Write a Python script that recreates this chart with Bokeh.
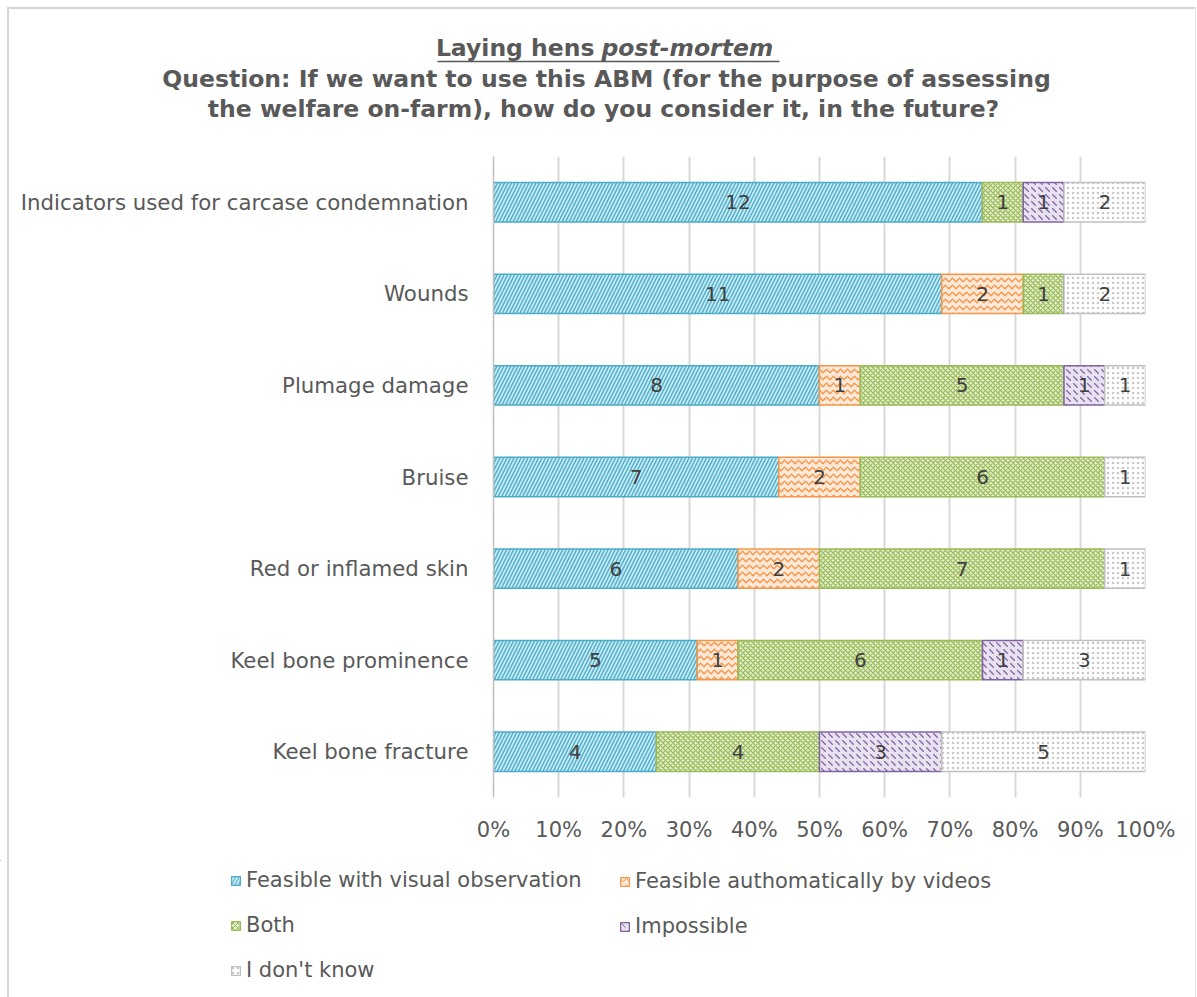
from bokeh.plotting import figure
from bokeh.layouts import column
from bokeh.models import (ColumnDataSource, Label, Legend, LegendItem, FactorRange,
                          Range1d, NumeralTickFormatter, FixedTicker, Arrow)
from bokeh.core.properties import value
from bokeh.embed import file_html
from bokeh.resources import INLINE

categories = ["Indicators used for carcase condemnation", "Wounds", "Plumage damage",
              "Bruise", "Red or inflamed skin", "Keel bone prominence", "Keel bone fracture"]
series_names = ["Feasible with visual observation", "Feasible authomatically by videos",
                "Both", "Impossible", "I don't know"]
visual = [12, 11, 8, 7, 6, 5, 4]
videos = [0, 2, 1, 2, 2, 1, 0]
both = [1, 1, 5, 6, 7, 6, 4]
impossible = [1, 0, 1, 0, 0, 1, 3]
dont_know = [2, 2, 1, 1, 1, 3, 5]
x_ticks = [0.0, 0.1, 0.2, 0.3, 0.4, 0.5, 0.6, 0.7, 0.8, 0.9, 1.0]
title_part1 = "Laying hens"
title_part2 = "post-mortem"
title_line2 = "Question: If we want to use this ABM (for the purpose of assessing"
title_line3 = "the welfare on-farm), how do you consider it, in the future?"

series_values = [visual, videos, both, impossible, dont_know]
styles = [
    dict(fill_color="#c3e8f3", hatch_color="#4bacc6", hatch_pattern="/", hatch_scale=7, line_color="#4bacc6"),
    dict(fill_color="#fde9d9", hatch_color="#f79646", hatch_pattern="v", hatch_scale=7, line_color="#f79646"),
    dict(fill_color="#e3efd0", hatch_color="#9bbb59", hatch_pattern="x", hatch_scale=5, line_color="#9bbb59"),
    dict(fill_color="#e8e2f0", hatch_color="#8064a2", hatch_pattern="`", hatch_scale=7, line_color="#8064a2"),
    dict(fill_color="#ffffff", hatch_color="#c8c8c8", hatch_pattern=".", hatch_scale=5, line_color="#c0c0c0"),
]

FONT = "DejaVu Sans"
TXT = "#595959"
W = 1197
TITLE_H = 150
MAIN_H = 710
LEG_H = 137
FL, FR = 493, 1145


def bare_figure(height, y_top):
    f = figure(width=W, height=height, output_backend="svg", toolbar_location=None,
               x_range=Range1d(0, W), y_range=Range1d(y_top, 0),
               x_axis_location=None, y_axis_location=None, frame_align=False,
               min_border_left=0, min_border_right=0, min_border_top=0, min_border_bottom=0)
    f.grid.visible = False
    f.outline_line_color = None
    f.background_fill_color = None
    f.border_fill_color = None
    return f


# ---------------- title ----------------
t = bare_figure(TITLE_H, TITLE_H)
title_style = dict(text_font=FONT, text_font_size="23.5px", text_font_style="bold",
                   text_color=TXT, text_baseline="middle")
t.add_layout(Label(x=594, y=47, text=title_part1, text_align="right", **title_style))
ts2 = dict(title_style)
ts2["text_font_style"] = "bold italic"
t.add_layout(Label(x=601, y=47, text=title_part2, text_align="left", **ts2))
t.add_layout(Arrow(end=None, x_start=437, y_start=61, x_end=779, y_end=61,
                   line_color=TXT, line_width=1.5))
t.add_layout(Label(x=606, y=78, text=title_line2, text_align="center", **title_style))
t.add_layout(Label(x=603, y=108, text=title_line3, text_align="center", **title_style))

# ---------------- main chart ----------------
p = figure(width=W, height=MAIN_H, output_backend="svg", toolbar_location=None,
           x_range=Range1d(0, 1), frame_align=False,
           y_range=FactorRange(factors=list(reversed(categories)), range_padding=0),
           min_border_left=FL, min_border_right=W - FR,
           min_border_top=6, min_border_bottom=63)
p.outline_line_color = None
p.background_fill_color = None
p.border_fill_color = None

totals = [sum(v[i] for v in series_values) for i in range(len(categories))]
cum = [0.0] * len(categories)
for name, vals, st in zip(series_names, series_values, styles):
    left = list(cum)
    right = [cum[i] + vals[i] / totals[i] for i in range(len(categories))]
    cum = right
    src = ColumnDataSource(dict(cat=categories, left=left, right=right))
    p.hbar(y="cat", left="left", right="right", height=0.43, source=src,
           line_width=1.5, hatch_weight=1.3, **st)
    keep = [i for i in range(len(categories)) if vals[i] > 0]
    lsrc = ColumnDataSource(dict(cat=[categories[i] for i in keep],
                                 mid=[(left[i] + right[i]) / 2 for i in keep],
                                 lbl=[str(vals[i]) for i in keep]))
    p.text(x="mid", y="cat", text="lbl", source=lsrc, text_align="center",
           text_baseline="middle", text_font=value(FONT), text_font_size="20px",
           text_color="#404040")

p.xaxis.ticker = FixedTicker(ticks=x_ticks)
p.xaxis.formatter = NumeralTickFormatter(format="0%")
p.xaxis.axis_line_color = None
p.xaxis.major_tick_line_color = None
p.xaxis.minor_tick_line_color = None
p.xaxis.major_label_standoff = 14
p.xaxis.major_label_text_font = FONT
p.xaxis.major_label_text_font_size = "21px"
p.xaxis.major_label_text_color = TXT

p.yaxis.axis_line_color = "#bfbfbf"
p.yaxis.axis_line_width = 1.5
p.yaxis.major_tick_line_color = None
p.yaxis.minor_tick_line_color = None
p.yaxis.major_label_standoff = 19
p.yaxis.major_label_text_font = FONT
p.yaxis.major_label_text_font_size = "21.3px"
p.yaxis.major_label_text_color = TXT

p.xgrid.ticker = FixedTicker(ticks=x_ticks)
p.xgrid.grid_line_color = "#d9d9d9"
p.xgrid.grid_line_width = 2
p.ygrid.grid_line_color = None

# ---------------- legend ----------------
lg = bare_figure(LEG_H, LEG_H)
leg_renderers = []
for st in styles:
    # proxy renderers placed far outside the visible range; used only for legend swatches
    r = lg.hbar(y=[-5000], left=[-5000], right=[-4990], height=1, line_width=1.2,
                hatch_weight=1.0, **st)
    leg_renderers.append(r)

leg_common = dict(padding=0, margin=0, border_line_color=None, background_fill_alpha=0,
                  spacing=21, label_height=22, glyph_height=11, glyph_width=11,
                  label_standoff=5, label_text_font=FONT, label_text_font_size="21px",
                  label_text_color=TXT, label_text_baseline="middle")
leg1 = Legend(items=[LegendItem(label=series_names[i], renderers=[leg_renderers[i]]) for i in (0, 2, 4)],
              location=(230, LEG_H - 122), **leg_common)
leg2 = Legend(items=[LegendItem(label=series_names[i], renderers=[leg_renderers[i]]) for i in (1, 3)],
              location=(619, LEG_H - 78), **leg_common)
lg.add_layout(leg1)
lg.add_layout(leg2)

border_bg = ("linear-gradient(#d6d6d6,#d6d6d6) 7px 7px / 2px 990px no-repeat, "
             "linear-gradient(#d6d6d6,#d6d6d6) 7px 7px / 1188px 2px no-repeat, "
             "linear-gradient(#e6e6e6,#e6e6e6) 1195px 7px / 1px 990px no-repeat, white")
layout = column(t, p, lg, spacing=0, styles={"background": border_bg})
open("out.html", "w").write(file_html(layout, INLINE))
